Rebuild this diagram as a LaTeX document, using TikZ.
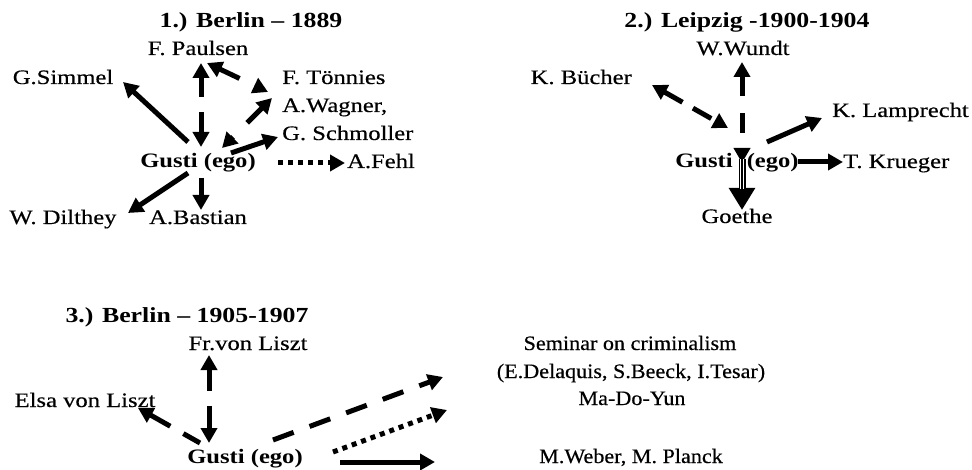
\documentclass[tikz,border=0pt]{standalone}
\usepackage{fontspec}
\setmainfont{Liberation Serif}[FakeStretch=1.2, UprightFeatures={FakeBold=0.4}]
\newfontfamily\narrowfont{Liberation Serif}[FakeStretch=1.08, UprightFeatures={FakeBold=0.4}]
\usetikzlibrary{arrows.meta}
\tikzset{
  lbl/.style={anchor=base, inner sep=0pt, font=\fontsize{20.5}{24}\selectfont},
  nlbl/.style={anchor=base, inner sep=0pt, font=\narrowfont\fontsize{20.5}{24}\selectfont},
  egolbl/.style={anchor=base, inner sep=0pt, font=\fontsize{20.5}{24}\selectfont\bfseries},
  ttl/.style={anchor=base, inner sep=0pt, font=\fontsize{21.5}{25}\selectfont\bfseries},
  tip/.tip={Triangle[length=15pt,width=16pt]},
  conn/.style={line width=5pt, -tip},
  bidir/.style={line width=5pt, tip-tip},
  back/.style={line width=5pt, tip-},
}
\begin{document}
\begin{tikzpicture}[x=1pt,y=-1pt]
\path[use as bounding box] (0,0) rectangle (972,470);

% ---------- Section 1 ----------
\node[ttl] (t1) at (251,28) {1.) Berlin – 1889};
\node[lbl] (paulsen) at (198,55) {F. Paulsen};
\node[lbl] (simmel) at (63,84) {G.Simmel};
\node[lbl,anchor=base west] (tonnies) at (282,84) {F. Tönnies};
\node[lbl,anchor=base west] (wagner) at (282,112) {A.Wagner,};
\node[lbl,anchor=base west] (schmoller) at (282,140) {G. Schmoller};
\node[egolbl] (gusti1) at (198,168) {Gusti (ego)};
\node[lbl,anchor=base west] (fehl) at (347,168) {A.Fehl};
\node[lbl] (dilthey) at (63,224) {W. Dilthey};
\node[lbl] (bastian) at (198,224) {A.Bastian};

\coordinate (s1a) at (188,142); \coordinate (e1a) at (123,82);
\coordinate (s1b) at (201,63);  \coordinate (e1b) at (201,147);
\coordinate (s1c) at (207,63);  \coordinate (e1c) at (268,92);
\coordinate (s1d) at (272,98);  \coordinate (e1d) at (222,148);
\coordinate (s1e) at (231,153); \coordinate (e1e) at (278,137);
\coordinate (s1f) at (278,163); \coordinate (e1f) at (345,163);
\coordinate (s1g) at (188,173); \coordinate (e1g) at (128,213);
\coordinate (s1h) at (201,178); \coordinate (e1h) at (201,210);

\draw[conn] (s1a) -- (e1a);
\draw[bidir, dash pattern=on 20pt off 15pt] (s1b) -- (e1b);
\draw[bidir, dash pattern=on 22pt off 20pt] (s1c) -- (e1c);
\draw[bidir, dash pattern=on 21pt off 20pt] (s1d) -- (e1d);
\draw[conn] (s1e) -- (e1e);
\draw[conn, dash pattern=on 5pt off 5pt] (s1f) -- (e1f);
\draw[conn] (s1g) -- (e1g);
\draw[conn] (s1h) -- (e1h);

% ---------- Section 2 ----------
\node[ttl] (t2) at (747,28) {2.) Leipzig -1900-1904};
\node[lbl] (wundt) at (743,55) {W.Wundt};
\node[lbl,anchor=base east] (bucher) at (632,84) {K. Bücher};
\node[lbl,anchor=base west] (lamprecht) at (832,117) {K. Lamprecht};
\node[lbl,anchor=base west] (krueger) at (843,168) {T. Krueger};
\node[egolbl] (gusti2) at (737,168) {Gusti\hspace{14pt}(ego)};
\node[lbl] (goethe) at (737,223) {Goethe};

\coordinate (s2a) at (742,62);  \coordinate (e2a) at (742,163);
\coordinate (s2b) at (652,85);  \coordinate (e2b) at (728,128);
\coordinate (s2c) at (767,142); \coordinate (e2c) at (822,118);
\coordinate (s2d) at (798,162); \coordinate (e2d) at (843,162);
\coordinate (s2e) at (742,159); \coordinate (m2e) at (742,189); \coordinate (e2e) at (742,210);

\draw[bidir, dash pattern=on 20pt off 17pt] (s2a) -- (e2a);
\draw[bidir, dash pattern=on 21pt off 12pt] (s2b) -- (e2b);
\draw[conn] (s2c) -- (e2c);
\draw[conn] (s2d) -- (e2d);
\draw[line width=7pt, -{Triangle[length=22pt,width=25pt]}] (s2e) -- (e2e);
\draw[white, line width=4.2pt] (s2e) -- (m2e);
\draw[line width=1.4pt] (s2e) -- (m2e);

% ---------- Section 3 ----------
\node[ttl] (t3) at (187,323) {3.) Berlin – 1905-1907};
\node[lbl] (frliszt) at (248,350) {Fr.von Liszt};
\node[lbl] (elsa) at (85,407) {Elsa von Liszt};
\node[egolbl] (gusti3) at (245,463) {Gusti (ego)};
\node[nlbl] (seminar) at (630,350) {Seminar on criminalism};
\node[nlbl] (delaquis) at (631,378) {(E.Delaquis, S.Beeck, I.Tesar)};
\node[nlbl] (madoyun) at (632,405) {Ma-Do-Yun};
\node[nlbl] (weber) at (631,463) {M.Weber, M. Planck};

\coordinate (s3a) at (209,355); \coordinate (e3a) at (209,443);
\coordinate (s3b) at (138,408); \coordinate (e3b) at (200,443);
\coordinate (s3c) at (273,440); \coordinate (e3c) at (443,377);
\coordinate (s3d) at (333,452); \coordinate (e3d) at (447,410);
\coordinate (s3e) at (340,462); \coordinate (e3e) at (435,462);

\draw[bidir, dash pattern=on 22pt off 15pt] (s3a) -- (e3a);
\draw[back, dash pattern=on 23pt off 15pt] (s3b) -- (e3b);
\draw[conn, dash pattern=on 22pt off 17pt] (s3c) -- (e3c);
\draw[conn, dash pattern=on 5pt off 5pt] (s3d) -- (e3d);
\draw[conn] (s3e) -- (e3e);
\end{tikzpicture}
\end{document}
